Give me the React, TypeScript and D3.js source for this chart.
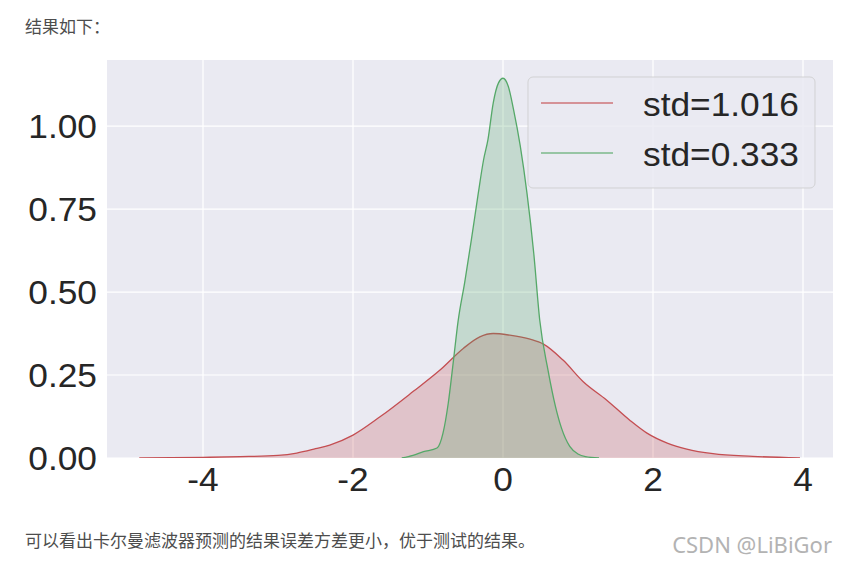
import React from "react";
import * as d3 from "d3";

const redX = [-4.85, -4.0, -3.5, -3.0, -2.75, -2.5, -2.31, -2.0, -1.64, -1.2, -0.84, -0.53, -0.31, -0.13, 0.09, 0.36, 0.54, 0.8, 1.07, 1.38, 1.69, 1.92, 2.19, 2.45, 2.8, 3.33, 3.96];
const redY = [0.0, 0.002, 0.004, 0.008, 0.015, 0.028, 0.039, 0.069, 0.124, 0.2, 0.265, 0.33, 0.365, 0.375, 0.37, 0.358, 0.343, 0.295, 0.23, 0.175, 0.114, 0.075, 0.045, 0.027, 0.013, 0.005, 0.0];
const greenX = [-1.35, -1.2, -1.06, -0.88, -0.8, -0.73, -0.66, -0.6, -0.51, -0.42, -0.33, -0.26, -0.2, -0.13, -0.06, 0.0, 0.07, 0.14, 0.23, 0.32, 0.41, 0.49, 0.6, 0.7, 0.78, 0.89, 1.0, 1.1, 1.28];
const greenY = [0.0, 0.008, 0.019, 0.03, 0.075, 0.165, 0.295, 0.41, 0.53, 0.66, 0.797, 0.897, 0.96, 1.07, 1.13, 1.144, 1.12, 1.05, 0.94, 0.797, 0.617, 0.415, 0.265, 0.155, 0.09, 0.035, 0.012, 0.004, 0.0];
const seriesNames = ["std=1.016", "std=0.333"];
const seriesColors = ["#c44e52", "#55a868"];
const xTicks = [-4, -2, 0, 2, 4];
const yTicks = [0, 0.25, 0.5, 0.75, 1.0];
const topText = "结果如下：";
const bottomText = "可以看出卡尔曼滤波器预测的结果误差方差更小，优于测试的结果。";
const watermark = "CSDN @LiBiGor";

export default function App() {
  const W = 847, H = 563;
  const left = 107, right = 833, top = 60, bottom = 458;
  const x = d3.scaleLinear().domain([-5.28, 4.4]).range([left, right]);
  const y = d3.scaleLinear().domain([0, 1.199]).range([bottom, top]);
  const series = [
    { name: seriesNames[0], color: seriesColors[0], pts: redX.map((v, i) => [v, redY[i]] as [number, number]) },
    { name: seriesNames[1], color: seriesColors[1], pts: greenX.map((v, i) => [v, greenY[i]] as [number, number]) },
  ];
  const area = d3.area<[number, number]>().x(d => x(d[0])).y0(y(0)).y1(d => y(d[1])).curve(d3.curveMonotoneX);
  const line = d3.line<[number, number]>().x(d => x(d[0])).y(d => y(d[1])).curve(d3.curveMonotoneX);
  const fs = 33;
  const sx = 1.07;
  const font = "'Liberation Sans', Arial, sans-serif";
  const T = (props: { x: number; y: number; anchor?: string; children: any; k?: string }) => (
    <text transform={`translate(${props.x},${props.y}) scale(${sx},1)`} textAnchor={props.anchor || "start"} fontSize={fs} fill="#262626" fontFamily={font}>{props.children}</text>
  );
  return (
    <svg width={W} height={H} style={{ position: "absolute", left: 0, top: 0, background: "#fff" }}>
      <text x={25} y={33} fontSize={17} fill="#4d4d4d" fontFamily="'Noto Sans CJK SC', sans-serif">{topText}</text>
      <rect x={left} y={top} width={right - left} height={bottom - top} fill="#eaeaf2" />
      {xTicks.map(t => (
        <line key={"gx" + t} x1={x(t)} x2={x(t)} y1={top} y2={bottom} stroke="#fff" strokeWidth={1.2} />
      ))}
      {yTicks.map(t => (
        <line key={"gy" + t} x1={left} x2={right} y1={y(t)} y2={y(t)} stroke="#fff" strokeWidth={1.2} />
      ))}
      <clipPath id="plotclip"><rect x={left} y={top} width={right - left} height={bottom - top} /></clipPath>
      <g clipPath="url(#plotclip)">
        {series.map(s => (
          <g key={s.name}>
            <path d={area(s.pts) || ""} fill={s.color} fillOpacity={0.25} />
            <path d={line(s.pts) || ""} fill="none" stroke={s.color} strokeWidth={1.3} />
          </g>
        ))}
      </g>
      {yTicks.map(t => (
        <T key={"ty" + t} x={97} y={y(t) + 12} anchor="end">{t.toFixed(2)}</T>
      ))}
      {xTicks.map(t => (
        <T key={"tx" + t} x={x(t)} y={491} anchor="middle">{t < 0 ? "-" + Math.abs(t) : String(t)}</T>
      ))}
      <rect x={528} y={77} width={287} height={111} rx={5} fill="#eaeaf2" fillOpacity={0.85} stroke="#cccccc" strokeOpacity={0.8} strokeWidth={1} />
      {series.map((s, i) => (
        <g key={"lg" + i}>
          <line x1={541} x2={613} y1={103 + i * 50} y2={103 + i * 50} stroke={s.color} strokeWidth={1.5} strokeOpacity={0.75} />
          <T x={643} y={116 + i * 50}>{s.name}</T>
        </g>
      ))}
      <text x={25} y={547} fontSize={17} fill="#4d4d4d" fontFamily="'Noto Sans CJK SC', sans-serif">{bottomText}</text>
      <text x={832} y={553} textAnchor="end" fontSize={22} fill="#b3b3b3" fontFamily="'Noto Sans', sans-serif">{watermark}</text>
    </svg>
  );
}
